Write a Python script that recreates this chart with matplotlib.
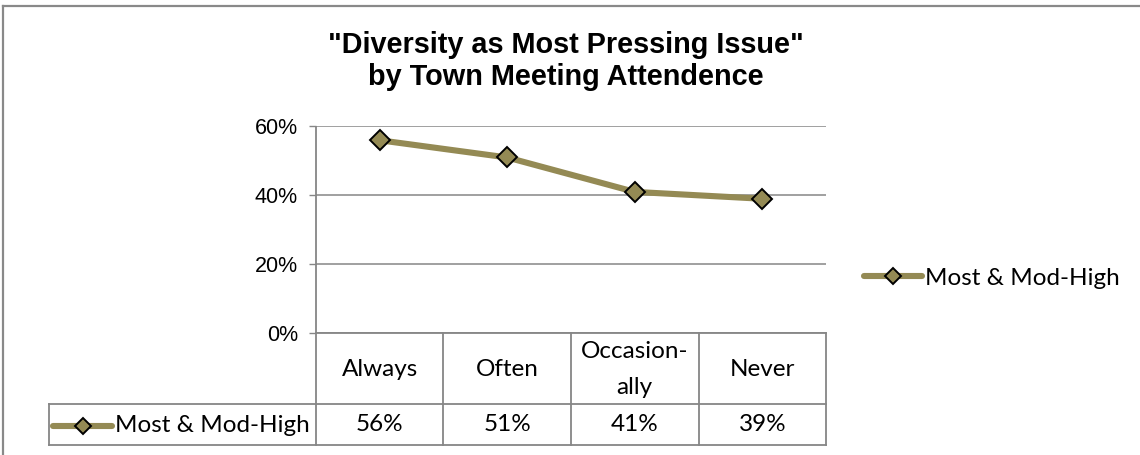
import matplotlib
matplotlib.use("Agg")
import matplotlib.pyplot as plt
from matplotlib.lines import Line2D
from matplotlib.transforms import Affine2D, blended_transform_factory

# data
categories = ["Always", "Often", "Occasion-\nally", "Never"]
values = [56, 51, 41, 39]
series_name = "Most & Mod-High"
title = '"Diversity as Most Pressing Issue"\nby Town Meeting Attendence'

W, H = 1140, 455
olive = "#948A54"
grid_gray = "#868686"
calibri = "Lato"
arial = "Liberation Sans"

fig = plt.figure(figsize=(W / 100, H / 100), dpi=100)
px = Affine2D().scale(1 / W, -1 / H).translate(0, 1) + fig.transFigure

# plot area in pixels
left, right, top, bottom = 316, 826, 126.5, 333
row_mid, row_bot, box_left = 404, 445, 49

ax = fig.add_axes([left / W, 1 - bottom / H, (right - left) / W, (bottom - top) / H])
x = list(range(len(categories)))
ax.plot(x, [v / 100 for v in values], color=olive, lw=4.4, marker="D", ms=10,
        mfc=olive, mec="black", mew=1.4, solid_capstyle="round", zorder=3)
ax.set_xlim(-0.5, len(categories) - 0.5)
ax.set_ylim(0, 0.6)
ax.set_yticks([0, 0.2, 0.4, 0.6])
ax.set_yticklabels([f"{int(t * 100)}%" for t in ax.get_yticks()], fontfamily=arial, fontsize=15.5)
ax.set_xticks([])
ax.tick_params(axis="y", length=5, width=1, color=grid_gray, pad=8)
for s in ax.spines.values():
    s.set_visible(False)
ax.grid(axis="y", color=grid_gray, lw=1.1)
ax.set_axisbelow(True)

# table under the plot
def pline(xs, ys):
    fig.add_artist(Line2D(xs, ys, transform=px, color=grid_gray, lw=1.3))

pline([left, left], [top, row_bot])
pline([left, right], [bottom, bottom])
pline([box_left, right], [row_mid, row_mid])
pline([box_left, right], [row_bot, row_bot])
pline([box_left, box_left], [row_mid, row_bot])
bt = blended_transform_factory(ax.transData, px)
for i in range(len(categories)):
    xb = i + 0.5
    ax.plot([xb, xb], [bottom, row_bot], transform=bt, color=grid_gray, lw=1.3, clip_on=False)
    ax.text(i, (bottom + row_mid) / 2 + 1, categories[i], transform=bt, ha="center", va="center",
            fontfamily=calibri, fontsize=17.5, linespacing=1.85)
    ax.text(i, (row_mid + row_bot) / 2, f"{values[i]}%", transform=bt, ha="center", va="center",
            fontfamily=calibri, fontsize=17.5)

# legend key inside the table row
ky = (row_mid + row_bot) / 2 + 1
fig.add_artist(Line2D([53, 112], [ky, ky], transform=px, color=olive, lw=4.4,
                      solid_capstyle="round"))
fig.add_artist(Line2D([82.5], [ky], transform=px, marker="D", ms=8, mfc=olive,
                      mec="black", mew=1.4, ls="none"))
fig.text(115 / W, 1 - ky / H, series_name, ha="left", va="center", fontfamily=calibri, fontsize=17.5)

# legend on the right
handle = Line2D([], [], color=olive, lw=4.4, marker="D", ms=8, mfc=olive, mec="black",
                mew=1.4, solid_capstyle="round")
fig.legend([handle], [series_name], loc="center left", bbox_to_anchor=(864 / W, 1 - 278 / H),
           frameon=False, prop={"family": calibri, "size": 17.5}, handlelength=2.4,
           handletextpad=0.1, borderpad=0, borderaxespad=0, numpoints=1)

fig.text(566 / W, 1 - 61 / H, title, ha="center", va="center", fontfamily=arial,
         fontweight="bold", fontsize=20.8, linespacing=1.2)

# chart border (top and left only visible)
fig.add_artist(Line2D([3, W], [6, 6], transform=px, color="#898989", lw=1.6))
fig.add_artist(Line2D([3, 3], [6, H], transform=px, color="#898989", lw=1.6))

fig.savefig("out.png", dpi=100)
